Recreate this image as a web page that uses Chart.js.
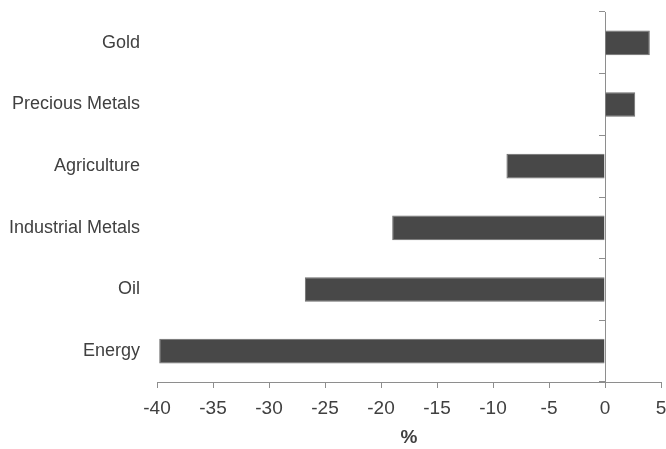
<!DOCTYPE html>
<html lang="en">
<head>
    <meta charset="UTF-8">
    <script src="https://cdn.jsdelivr.net/npm/chart.js@4.4.1/dist/chart.umd.min.js"></script>
    <title>Commodities</title>
    <style>
        html, body { margin: 0; padding: 0; background: #fff; }
        #wrap { width: 666px; height: 449px; }
    </style>
</head>
<body>
    <div id="wrap"><canvas id="myChart"></canvas></div>

    <script>
        // values
        const categories = ['Gold', 'Precious Metals', 'Agriculture', 'Industrial Metals', 'Oil', 'Energy'];
        const changes = [4.0, 2.7, -8.8, -19.0, -26.8, -39.8];
        const xMin = -40, xMax = 5, xStep = 5;
        const xTitle = '%';

        const axisGrey = '#8e8e8e';
        const textGrey = '#404040';

        const ctx = document.getElementById('myChart').getContext('2d');

        const data = {
            labels: categories,
            datasets: [{
                data: changes,
                backgroundColor: '#484848',
                borderColor: '#6c6c6c',
                borderWidth: 1,
                barPercentage: 0.4,
                categoryPercentage: 1,
                yAxisID: 'y'
            }]
        };

        new Chart(ctx, {
            type: 'bar',
            data: data,
            options: {
                indexAxis: 'y',
                responsive: true,
                maintainAspectRatio: false,
                animation: false,
                layout: { padding: { top: 12, right: 5, left: 0, bottom: 0 } },
                plugins: { legend: { display: false }, tooltip: { enabled: false } },
                scales: {
                    x: {
                        min: xMin,
                        max: xMax,
                        ticks: { stepSize: xStep, color: textGrey, padding: 9,
                            font: { family: 'Liberation Sans', size: 19 } },
                        grid: { drawOnChartArea: false, tickLength: 6, color: axisGrey },
                        border: { color: axisGrey },
                        title: {
                            display: true, text: xTitle, color: textGrey,
                            font: { family: 'Liberation Sans', size: 19, weight: 'bold' },
                            padding: { top: 8, bottom: 0 }
                        },
                        // fixed sizes so the plot area lines up with the reference
                        afterFit: s => { s.height = 67; s.paddingLeft = 0; s.paddingRight = 0; }
                    },
                    y: {
                        position: 'left',
                        grid: { display: false, drawTicks: false },
                        border: { display: false },
                        ticks: { color: textGrey, padding: 17,
                            font: { family: 'Liberation Sans', size: 18 } },
                        afterFit: s => { s.width = 157; s.paddingTop = 0; s.paddingBottom = 0; }
                    },
                    // axis line through zero with the category tick marks
                    y2: {
                        type: 'category',
                        position: { x: 0 },
                        offset: true,
                        grid: { offset: true, drawOnChartArea: false, tickLength: 6, color: axisGrey },
                        border: { color: axisGrey },
                        ticks: { display: false }
                    }
                }
            }
        });
    </script>
</body>
</html>
